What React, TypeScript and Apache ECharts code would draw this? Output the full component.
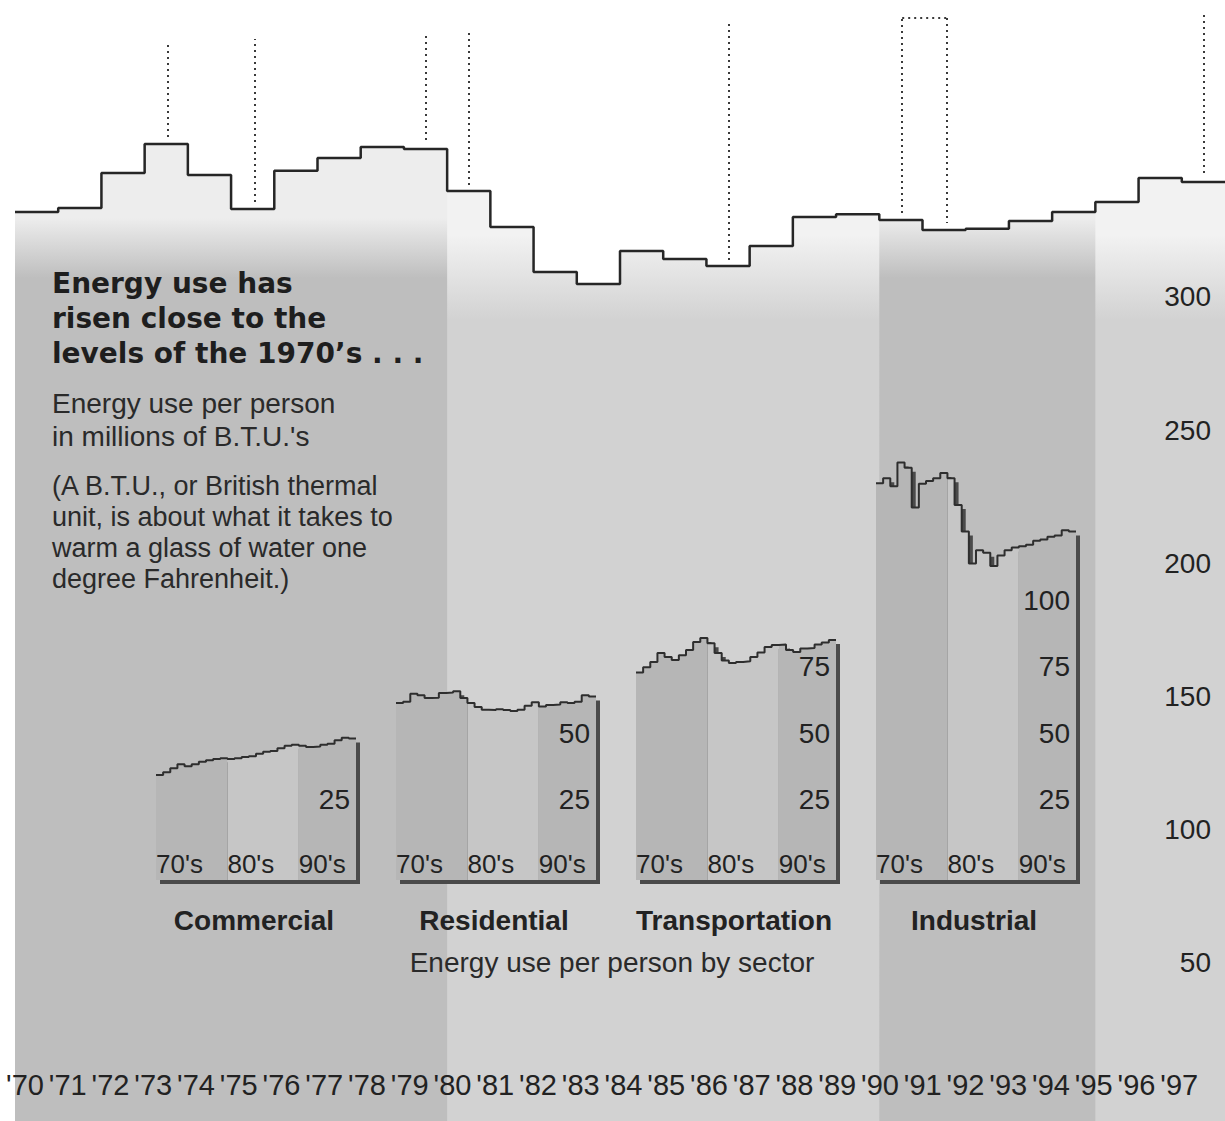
import React, { useEffect, useRef } from "react";
import * as echarts from "echarts";

// ---------- data ----------
const years = [1970, 1971, 1972, 1973, 1974, 1975, 1976, 1977, 1978, 1979, 1980, 1981, 1982, 1983, 1984, 1985, 1986, 1987, 1988, 1989, 1990, 1991, 1992, 1993, 1994, 1995, 1996, 1997];

// Energy use per person, millions of B.T.U.'s (all sectors)
const totalUse = [331.8, 333.3, 346.5, 357.4, 345.7, 333.0, 347.3, 352.1, 356.2, 355.5, 339.7, 326.2, 309.3, 304.8, 317.2, 314.2, 311.6, 319.1, 330.0, 331.0, 328.8, 325.1, 325.5, 328.5, 331.8, 335.6, 344.6, 343.1];

const commercial = [39.5, 40.5, 42, 43.5, 42.8, 43.5, 44.5, 45, 45.5, 45.8, 45.5, 45.8, 46.2, 46.5, 47.5, 48.2, 48.5, 49.5, 50.5, 50.8, 50.5, 50, 50.2, 50.8, 51.2, 52.5, 53.5, 53.2];
const residential = [66.5, 67, 70, 69.5, 68.4, 68.5, 70.3, 70.5, 71, 68.4, 66.5, 65, 64, 63.9, 64.2, 63.9, 63.5, 64, 65.5, 66.8, 65.2, 65.8, 66, 66.8, 66.5, 67, 69.5, 69];
const transportation = [78, 80, 82, 85.3, 83.8, 82.7, 84.5, 86.5, 89.5, 91, 89, 85.3, 82.5, 81.6, 82, 82.2, 83.8, 85.5, 87.6, 88.3, 88.5, 86.5, 85.7, 87, 87.2, 88.5, 89.3, 90.2];
const industrial = [149.2, 151, 148, 157, 155, 140, 149, 150, 151, 153, 151, 141, 131, 119, 124, 123, 118, 122, 124, 125, 125.5, 126, 127.5, 128, 129, 129.5, 131.5, 131];

const mainTickLabels = [50, 100, 150, 200, 250, 300];
const sectorNames = ["Commercial", "Residential", "Transportation", "Industrial"];
const sectorValues = [commercial, residential, transportation, industrial];
const sectorTickLabels = [[25], [25, 50], [25, 50, 75], [25, 50, 75, 100]];

// shaded decades of the main chart
const mainDarkBands = [[1970, 1980], [1990, 1995]];
// decades inside the sector charts
const sectorBands = [[1970, 1980], [1980, 1990], [1990, 1998]];

// dotted leader lines (year, from value, to value)
const leaderLines = [
  { x1: 1973.53, y1: 360.0, x2: 1973.53, y2: 395.3 },
  { x1: 1975.54, y1: 335.6, x2: 1975.54, y2: 396.8 },
  { x1: 1979.51, y1: 358.9, x2: 1979.51, y2: 399.4 },
  { x1: 1980.51, y1: 342.0, x2: 1980.51, y2: 399.0 },
  { x1: 1986.51, y1: 313.8, x2: 1986.51, y2: 403.2 },
  { x1: 1990.53, y1: 331.5, x2: 1990.53, y2: 404.7 },
  { x1: 1990.53, y1: 404.7, x2: 1991.55, y2: 404.7 },
  { x1: 1991.55, y1: 404.7, x2: 1991.55, y2: 327.7 },
  { x1: 1997.5, y1: 346.5, x2: 1997.5, y2: 406.9 },
];

// ---------- helpers ----------
const NARROW = '"Liberation Sans Narrow", "Arial Narrow", "Liberation Sans", sans-serif';
const SANS = '"Liberation Sans", Arial, sans-serif';

function stepPoints(vals: number[], from = 1970, to = 1998) {
  const pts: number[][] = [];
  years.forEach((y, i) => {
    if (y >= from && y < to) pts.push([y, vals[i]]);
  });
  const lastIdx = years.indexOf(to - 1);
  pts.push([to, vals[lastIdx]]);
  return pts;
}

function buildOption() {
  const grid: any[] = [];
  const xAxis: any[] = [];
  const yAxis: any[] = [];
  const series: any[] = [];
  const graphic: any[] = [];

  // grid 0: main chart (0 at y=1096, 2.664 px per unit)
  grid.push({ left: 15, width: 1212, top: 0, height: 1121 });
  xAxis.push({ gridIndex: 0, type: "value", min: 1970, max: 1998, show: false });
  yAxis.push({
    gridIndex: 0,
    type: "value",
    position: "right",
    min: -9.38,
    max: 411.41,
    z: 10,
    axisLine: { show: false },
    axisTick: { show: false },
    splitLine: { show: false },
    axisLabel: {
      inside: true,
      align: "right",
      margin: 14,
      fontSize: 28,
      fontFamily: NARROW,
      color: "#222",
      customValues: mainTickLabels,
      formatter: (v: number) => (mainTickLabels.includes(v) ? String(v) : ""),
    },
  });

  // grid 1: year labels
  grid.push({ left: 25, width: 1212, top: 1000, height: 66 });
  xAxis.push({
    gridIndex: 1,
    type: "value",
    min: 1970,
    max: 1998,
    interval: 1,
    z: 10,
    axisLine: { show: false },
    axisTick: { show: false },
    splitLine: { show: false },
    axisLabel: {
      margin: 4,
      fontSize: 29,
      fontFamily: NARROW,
      color: "#222",
      formatter: (v: number) => (v < 1998 ? "'" + String(v).slice(2) : ""),
    },
  });
  yAxis.push({ gridIndex: 1, type: "value", min: 0, max: 1, show: false });

  // main fills
  const baseGrad = new echarts.graphic.LinearGradient(0, 235, 0, 320, [
    { offset: 0, color: "#f2f2f2" },
    { offset: 1, color: "#d2d2d2" },
  ], true);
  series.push({
    type: "line",
    step: "end",
    xAxisIndex: 0,
    yAxisIndex: 0,
    data: stepPoints(totalUse),
    symbol: "none",
    silent: true,
    z: 1,
    lineStyle: { width: 0, opacity: 0 },
    areaStyle: { color: baseGrad, opacity: 1, origin: "start" },
  });
  mainDarkBands.forEach(([a, b]) => {
    series.push({
      type: "line",
      step: "end",
      xAxisIndex: 0,
      yAxisIndex: 0,
      data: stepPoints(totalUse, a, b),
      symbol: "none",
      silent: true,
      z: 1,
      lineStyle: { width: 0, opacity: 0 },
      areaStyle: {
        color: new echarts.graphic.LinearGradient(0, 218, 0, 278, [
          { offset: 0, color: "#ededed" },
          { offset: 1, color: "#bebebe" },
        ], true),
        opacity: 1,
        origin: "start",
      },
    });
  });
  // main line
  series.push({
    type: "line",
    step: "end",
    xAxisIndex: 0,
    yAxisIndex: 0,
    data: stepPoints(totalUse),
    symbol: "none",
    silent: true,
    z: 3,
    lineStyle: { width: 2.5, color: "#262626" },
    markLine: {
      silent: true,
      symbol: ["none", "none"],
      label: { show: false },
      lineStyle: { type: [2, 4], width: 2, color: "#3a3a3a" },
      data: leaderLines.map((l) => [
        { coord: [l.x1, l.y1] },
        { coord: [l.x2, l.y2] },
      ]),
    },
  });

  // sector charts
  const miniTop = 454.4;
  const miniH = 425.6;
  const miniW = 200;
  const lefts = [156, 396, 636, 876];
  sectorValues.forEach((vals, k) => {
    const L = lefts[k];
    // shadow grid
    const gShadow = grid.length;
    grid.push({ left: L + 4, top: miniTop + 4, width: miniW, height: miniH });
    xAxis.push({ gridIndex: gShadow, type: "value", min: 1970, max: 1998, show: false });
    yAxis.push({ gridIndex: gShadow, type: "value", min: 0, max: 160, show: false });
    series.push({
      type: "line",
      step: "end",
      xAxisIndex: gShadow,
      yAxisIndex: gShadow,
      data: stepPoints(vals),
      symbol: "none",
      silent: true,
      z: 4,
      lineStyle: { width: 0, opacity: 0 },
      areaStyle: { color: "#4a4a4a", opacity: 1, origin: "start" },
    });
    // main grid
    const g = grid.length;
    grid.push({ left: L, top: miniTop, width: miniW, height: miniH });
    xAxis.push({
      gridIndex: g,
      type: "value",
      min: 1970,
      max: 1998,
      interval: 10,
      z: 10,
      axisLine: { show: false },
      axisTick: { show: false },
      splitLine: { show: false },
      axisLabel: {
        inside: true,
        align: "left",
        margin: 3,
        fontSize: 26,
        fontFamily: SANS,
        color: "#222",
        showMaxLabel: false,
        formatter: (v: number) => (v % 10 === 0 && v < 1998 ? String(v).slice(2) + "'s" : ""),
      },
    });
    yAxis.push({
      gridIndex: g,
      type: "value",
      position: "right",
      min: 0,
      max: 160,
      interval: 25,
      z: 10,
      axisLine: { show: false },
      axisTick: { show: false },
      splitLine: { show: false },
      axisLabel: {
        inside: true,
        align: "right",
        verticalAlign: "bottom",
        margin: 6,
        fontSize: 28,
        fontFamily: NARROW,
        color: "#222",
        formatter: (v: number) => (sectorTickLabels[k].includes(v) ? String(v) : ""),
      },
    });
    sectorBands.forEach(([a, b], j) => {
      series.push({
        type: "line",
        step: "end",
        xAxisIndex: g,
        yAxisIndex: g,
        data: stepPoints(vals, a, b),
        symbol: "none",
        silent: true,
        z: 5,
        lineStyle: { width: 0, opacity: 0 },
        areaStyle: { color: j === 1 ? "#c6c6c6" : "#b6b6b6", opacity: 1, origin: "start" },
      });
    });
    series.push({
      type: "line",
      step: "end",
      xAxisIndex: g,
      yAxisIndex: g,
      data: stepPoints(vals),
      symbol: "none",
      silent: true,
      z: 6,
      lineStyle: { width: 2, color: "#2e2e2e" },
    });
    graphic.push({
      type: "text",
      x: L + 98,
      y: 920,
      z: 100,
      style: {
        text: sectorNames[k],
        fontSize: 28,
        fontWeight: "bold",
        fontFamily: SANS,
        fill: "#222",
        align: "center",
        verticalAlign: "middle",
      },
    });
  });

  // texts
  graphic.push(
    {
      type: "text",
      x: 52,
      y: 266,
      z: 100,
      style: {
        text: "Energy use has\nrisen close to the\nlevels of the 1970’s . . .",
        fontSize: 28,
        fontWeight: "bold",
        fontFamily: '"DejaVu Sans", sans-serif',
        lineHeight: 35,
        fill: "#1e1e1e",
        align: "left",
        verticalAlign: "top",
      },
    },
    {
      type: "text",
      x: 52,
      y: 387,
      z: 100,
      style: {
        text: "Energy use per person\nin millions of B.T.U.'s",
        fontSize: 28,
        fontFamily: SANS,
        lineHeight: 33,
        fill: "#2a2a2a",
        align: "left",
        verticalAlign: "top",
      },
    },
    {
      type: "text",
      x: 52,
      y: 470,
      z: 100,
      style: {
        text: "(A B.T.U., or British thermal\nunit, is about what it takes to\nwarm a glass of water one\ndegree Fahrenheit.)",
        fontSize: 27,
        fontFamily: SANS,
        lineHeight: 31,
        fill: "#2a2a2a",
        align: "left",
        verticalAlign: "top",
      },
    },
    {
      type: "text",
      x: 612,
      y: 962,
      z: 100,
      style: {
        text: "Energy use per person by sector",
        fontSize: 28,
        fontFamily: SANS,
        fill: "#2a2a2a",
        align: "center",
        verticalAlign: "middle",
      },
    }
  );

  return {
    animation: false,
    backgroundColor: "#ffffff",
    grid,
    xAxis,
    yAxis,
    series,
    graphic,
  };
}

export default function App() {
  const ref = useRef<HTMLDivElement>(null);
  useEffect(() => {
    if (!ref.current) return;
    const chart = echarts.init(ref.current, null, { renderer: "svg" });
    chart.setOption(buildOption() as any);
    return () => chart.dispose();
  }, []);
  return (
    <div
      ref={ref}
      style={{ position: "absolute", left: 0, top: 0, width: 1225, height: 1121 }}
    />
  );
}
